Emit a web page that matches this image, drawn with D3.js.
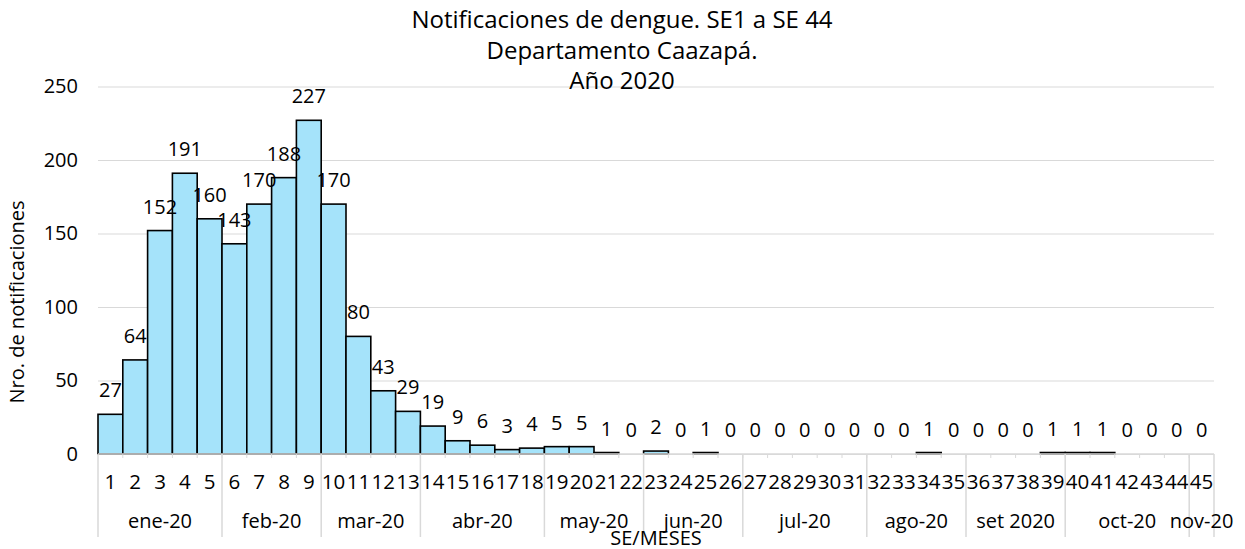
<!DOCTYPE html>
<html>
<head>
<meta charset="utf-8">
<script src="https://cdn.jsdelivr.net/npm/d3@7"></script>
<style>
  body { margin: 0; background: #fff; }
  svg text { font-family: "Open Sans", "Noto Sans", sans-serif; fill: #000; }
</style>
</head>
<body>
<svg id="chart" width="1245" height="549"></svg>
<script>
// semanas epidemiologicas
var weeks = ["1","2","3","4","5","6","7","8","9","10","11","12","13","14","15",
  "16","17","18","19","20","21","22","23","24","25","26","27","28","29","30",
  "31","32","33","34","35","36","37","38","39","40","41","42","43","44","45"];
var notifs = [27,64,152,191,160,143,170,188,227,170,80,43,29,19,9,6,3,4,5,5,
  1,0,2,0,1,0,0,0,0,0,0,0,0,1,0,0,0,0,1,1,1,0,0,0,0];
var months = ["ene-20","feb-20","mar-20","abr-20","may-20","jun-20","jul-20","ago-20","set 2020","oct-20","nov-20"];
var monthWeeks = [5,4,4,5,4,4,5,4,4,5,1];
var yTicks = [0,50,100,150,200,250];
var titleLines = ["Notificaciones de dengue. SE1 a SE 44", "Departamento Caazapá.", "Año 2020"];

(function() {
    var svg = d3.select('#chart'),
        x0 = 98, x1 = 1214, y0 = 454, y1 = 86.5,
        grid = '#d9d9d9';

    var x = d3.scaleBand().domain(weeks).range([x0, x1]).padding(0);
    var y = d3.scaleLinear().domain([0, 250]).range([y0, y1]);

    // gridlines
    svg.append('g')
        .attr('transform', 'translate(' + x0 + ',0)')
        .call(d3.axisLeft(y).tickValues(yTicks).tickSize(-(x1 - x0)).tickFormat(''))
        .call(g => {
            g.select('.domain').remove()
            g.selectAll('line').attr('stroke', grid).attr('stroke-width', 1.2)
        })

    // y labels
    svg.append('g')
        .attr('transform', 'translate(' + x0 + ',0)')
        .call(d3.axisLeft(y).tickValues(yTicks).tickSize(0).tickPadding(20))
        .call(g => {
            g.select('.domain').remove()
            g.selectAll('text').attr('font-size', 20).attr('font-family', null).attr('fill', null)
        })

    // bars
    svg.append('g').selectAll('rect')
        .data(notifs)
        .enter().append('rect')
        .attr('x', (d, i) => x(weeks[i]))
        .attr('y', d => y(d))
        .attr('width', x.bandwidth())
        .attr('height', d => y0 - y(d))
        .attr('fill', '#a5e3fa')
        .attr('stroke', d => d > 0 ? '#000' : 'none')
        .attr('stroke-width', 1.6)

    // data labels
    svg.append('g').selectAll('text')
        .data(notifs)
        .enter().append('text')
        .attr('x', (d, i) => x(weeks[i]) + x.bandwidth() / 2)
        .attr('y', d => y(d) - 17)
        .attr('text-anchor', 'middle')
        .attr('font-size', 20)
        .text(d => d)

    // category axis
    var axis = svg.append('g')
    axis.append('line')
        .attr('x1', x0).attr('x2', x1)
        .attr('y1', y0).attr('y2', y0)
        .attr('stroke', grid).attr('stroke-width', 1.5)

    axis.selectAll('.wk-tick')
        .data(weeks.slice(1))
        .enter().append('line')
        .attr('class', 'wk-tick')
        .attr('x1', d => x(d)).attr('x2', d => x(d))
        .attr('y1', y0).attr('y2', y0 + 4)
        .attr('stroke', grid)

    axis.selectAll('.wk')
        .data(weeks)
        .enter().append('text')
        .attr('class', 'wk')
        .attr('x', d => x(d) + x.bandwidth() / 2)
        .attr('y', 489)
        .attr('text-anchor', 'middle')
        .attr('font-size', 20.5)
        .text(d => d)

    var start = 0;
    var spans = months.map((m, i) => {
        var s = { label: m, a: weeks[start], b: weeks[start + monthWeeks[i] - 1] };
        start += monthWeeks[i];
        return s;
    });

    var seps = [x(spans[0].a)].concat(spans.map(s => x(s.b) + x.bandwidth()));
    axis.selectAll('.sep')
        .data(seps)
        .enter().append('line')
        .attr('class', 'sep')
        .attr('x1', d => d).attr('x2', d => d)
        .attr('y1', y0).attr('y2', 537)
        .attr('stroke', grid).attr('stroke-width', 1.5)

    axis.selectAll('.mes')
        .data(spans)
        .enter().append('text')
        .attr('class', 'mes')
        .attr('x', s => (x(s.a) + x(s.b) + x.bandwidth()) / 2)
        .attr('y', 528)
        .attr('text-anchor', 'middle')
        .attr('font-size', 20)
        .text(s => s.label)

    // axis titles
    svg.append('text')
        .attr('x', (x0 + x1) / 2)
        .attr('y', 545)
        .attr('text-anchor', 'middle')
        .attr('font-size', 20)
        .text('SE/MESES')

    svg.append('text')
        .attr('transform', 'translate(24,302) rotate(-90)')
        .attr('text-anchor', 'middle')
        .attr('font-size', 20)
        .text('Nro. de notificaciones')

    svg.append('g').selectAll('text')
        .data(titleLines)
        .enter().append('text')
        .attr('x', 622)
        .attr('y', (d, i) => 28 + i * 30.5)
        .attr('text-anchor', 'middle')
        .attr('font-size', 24)
        .text(d => d)
})();
</script>
</body>
</html>
